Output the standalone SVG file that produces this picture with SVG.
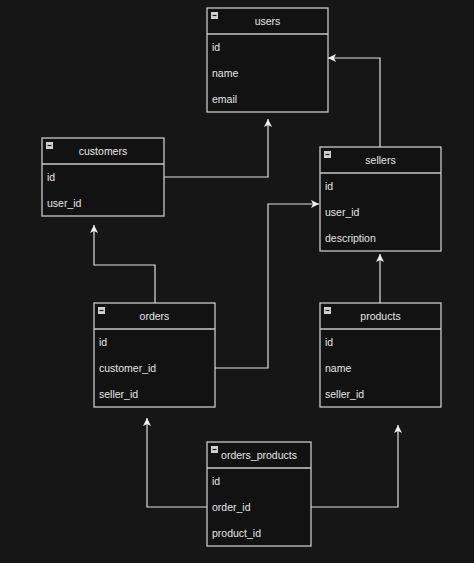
<svg xmlns="http://www.w3.org/2000/svg" width="474" height="563" viewBox="0 0 474 563">
<defs>
<style>
.bg{fill:#161616}
.box{fill:#121212;stroke:#c8c8c8;stroke-width:1.3}
.sep{stroke:#c8c8c8;stroke-width:1.3}
.t{font-family:"Liberation Sans",Arial,sans-serif;font-size:10.5px;fill:#e6e6e6}
.h{text-anchor:middle}
.ic{fill:#d0d0d0}
.icl{stroke:#222;stroke-width:1.2}
.c{fill:none;stroke:#e0e0e0;stroke-width:1.2;marker-end:url(#a)}
</style>
<marker id="a" markerUnits="userSpaceOnUse" markerWidth="9" markerHeight="9" refX="8" refY="4.5" orient="auto">
<path d="M0,0.5 L8,4.5 L0,8.5 L2,4.5 z" fill="#f0f0f0"/>
</marker>
</defs>
<rect class="bg" x="0" y="0" width="474" height="563"/>
<g id="connectors">
<path class="c" d="M164,177 H268 V119"/>
<path class="c" d="M380,147 V58 H328"/>
<path class="c" d="M155,303 V265 H94 V225"/>
<path class="c" d="M215,368 H268 V204 H319"/>
<path class="c" d="M380,303 V254"/>
<path class="c" d="M207,507 H147 V418"/>
<path class="c" d="M311,507 H398 V425"/>
</g>
<g id="users">
<rect class="box" x="207" y="8" width="121" height="104"/>
<line class="sep" x1="207" y1="34" x2="328" y2="34"/>
<rect class="ic" x="211" y="12" width="7" height="7"/><line class="icl" x1="212.5" y1="15.5" x2="216.5" y2="15.5"/>
<text class="t h" x="267.5" y="24.5">users</text>
<text class="t" x="212" y="50.5">id</text>
<text class="t" x="212" y="76.5">name</text>
<text class="t" x="212" y="102.5">email</text>
</g>
<g id="customers">
<rect class="box" x="42" y="138" width="122" height="78"/>
<line class="sep" x1="42" y1="164" x2="164" y2="164"/>
<rect class="ic" x="46" y="142" width="7" height="7"/><line class="icl" x1="47.5" y1="145.5" x2="51.5" y2="145.5"/>
<text class="t h" x="103" y="154.5">customers</text>
<text class="t" x="47" y="180.5">id</text>
<text class="t" x="47" y="206.5">user_id</text>
</g>
<g id="sellers">
<rect class="box" x="320" y="147" width="121" height="104"/>
<line class="sep" x1="320" y1="173" x2="441" y2="173"/>
<rect class="ic" x="324" y="151" width="7" height="7"/><line class="icl" x1="325.5" y1="154.5" x2="329.5" y2="154.5"/>
<text class="t h" x="380.5" y="163.5">sellers</text>
<text class="t" x="325" y="189.5">id</text>
<text class="t" x="325" y="215.5">user_id</text>
<text class="t" x="325" y="241.5">description</text>
</g>
<g id="orders">
<rect class="box" x="94" y="303" width="121" height="104"/>
<line class="sep" x1="94" y1="329" x2="215" y2="329"/>
<rect class="ic" x="98" y="307" width="7" height="7"/><line class="icl" x1="99.5" y1="310.5" x2="103.5" y2="310.5"/>
<text class="t h" x="154.5" y="319.5">orders</text>
<text class="t" x="99" y="345.5">id</text>
<text class="t" x="99" y="371.5">customer_id</text>
<text class="t" x="99" y="397.5">seller_id</text>
</g>
<g id="products">
<rect class="box" x="320" y="303" width="121" height="104"/>
<line class="sep" x1="320" y1="329" x2="441" y2="329"/>
<rect class="ic" x="324" y="307" width="7" height="7"/><line class="icl" x1="325.5" y1="310.5" x2="329.5" y2="310.5"/>
<text class="t h" x="380.5" y="319.5">products</text>
<text class="t" x="325" y="345.5">id</text>
<text class="t" x="325" y="371.5">name</text>
<text class="t" x="325" y="397.5">seller_id</text>
</g>
<g id="orders_products">
<rect class="box" x="207" y="442" width="104" height="104"/>
<line class="sep" x1="207" y1="468" x2="311" y2="468"/>
<rect class="ic" x="211" y="446" width="7" height="7"/><line class="icl" x1="212.5" y1="449.5" x2="216.5" y2="449.5"/>
<text class="t h" x="259" y="458.5">orders_products</text>
<text class="t" x="212" y="484.5">id</text>
<text class="t" x="212" y="510.5">order_id</text>
<text class="t" x="212" y="536.5">product_id</text>
</g>
</svg>
